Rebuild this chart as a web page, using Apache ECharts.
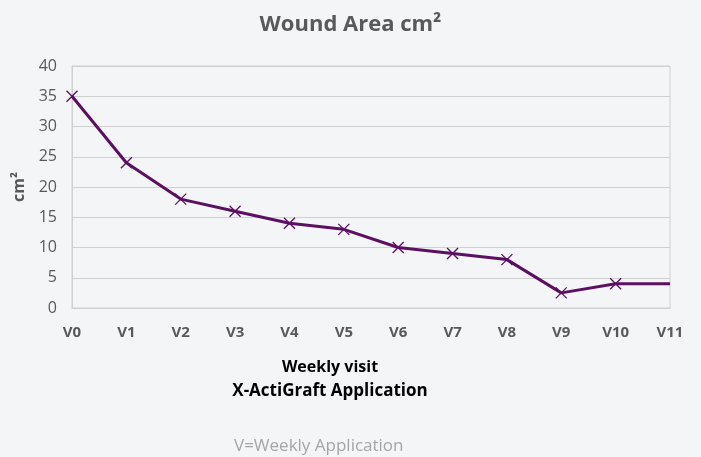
<!DOCTYPE html>
<html><head><meta charset="utf-8">
<script src="https://cdn.jsdelivr.net/npm/echarts@6/dist/echarts.min.js"></script>
<style>html,body{margin:0;padding:0;background:#f4f5f7}#c{width:701px;height:457px}</style>
</head><body><div id="c"></div>
<script>
const categories = ['V0','V1','V2','V3','V4','V5','V6','V7','V8','V9','V10','V11'];
const woundArea = [35, 24, 18, 16, 14, 13, 10, 9, 8, 2.5, 4, 4];
const yTicks = [0, 5, 10, 15, 20, 25, 30, 35, 40];

const chart = echarts.init(document.getElementById('c'));
const font = '"Open Sans", "Liberation Sans", sans-serif';
chart.setOption({
  backgroundColor: '#f4f5f7',
  animation: false,
  title: [{
    text: 'Wound Area cm²', left: 'center', top: 9,
    textStyle: {fontFamily: font, fontSize: 22, fontWeight: 'bold', color: '#595959'}
  }, {
    text: 'V=Weekly Application', left: 229, top: 433,
    textStyle: {fontFamily: font, fontSize: 17, fontWeight: 'normal', color: '#a6a6a6'}
  }],
  graphic: [{
    type: 'text', x: 330, y: 367,
    style: {text: 'Weekly visit', x: 0, y: 0, align: 'center', verticalAlign: 'middle',
      font: 'bold 16px ' + font, fill: '#000'}
  }, {
    type: 'text', x: 330, y: 391,
    style: {text: 'X-ActiGraft Application', x: 0, y: 0, align: 'center', verticalAlign: 'middle',
      font: 'bold 17px ' + font, fill: '#000'}
  }],
  grid: {left: 72, right: 31, top: 66, bottom: 149, show: true, borderColor: '#d0d0d0', borderWidth: 1},
  xAxis: {
    type: 'category', data: categories, boundaryGap: false,
    axisLine: {show: true, lineStyle: {color: '#d0d0d0'}},
    axisTick: {show: false},
    axisLabel: {fontFamily: font, fontSize: 15, fontWeight: 'bold', color: '#595959', margin: 17},
    splitLine: {show: false}
  },
  yAxis: {
    type: 'value', min: 0, max: 40, interval: 5,
    name: 'cm²', nameLocation: 'middle', nameGap: 44, nameRotate: 90,
    nameTextStyle: {fontFamily: font, fontSize: 16, fontWeight: 'bold', color: '#595959'},
    axisLine: {show: true, lineStyle: {color: '#d0d0d0'}},
    axisTick: {show: false},
    axisLabel: {fontFamily: font, fontSize: 16, color: '#595959', margin: 15,
      formatter: v => yTicks.includes(v) ? String(v) : ''},
    splitLine: {lineStyle: {color: '#d0d0d0', width: 1}}
  },
  series: [{
    type: 'line',
    data: woundArea.map((v, i) => i === woundArea.length - 1 ? {value: v, symbol: 'none'} : v),
    symbol: 'path://M0,0L10,10M10,0L0,10',
    symbolSize: 11,
    lineStyle: {color: '#5b1062', width: 3},
    itemStyle: {color: 'none', borderColor: '#5b1062', borderWidth: 1.3}
  }]
});
</script></body></html>
